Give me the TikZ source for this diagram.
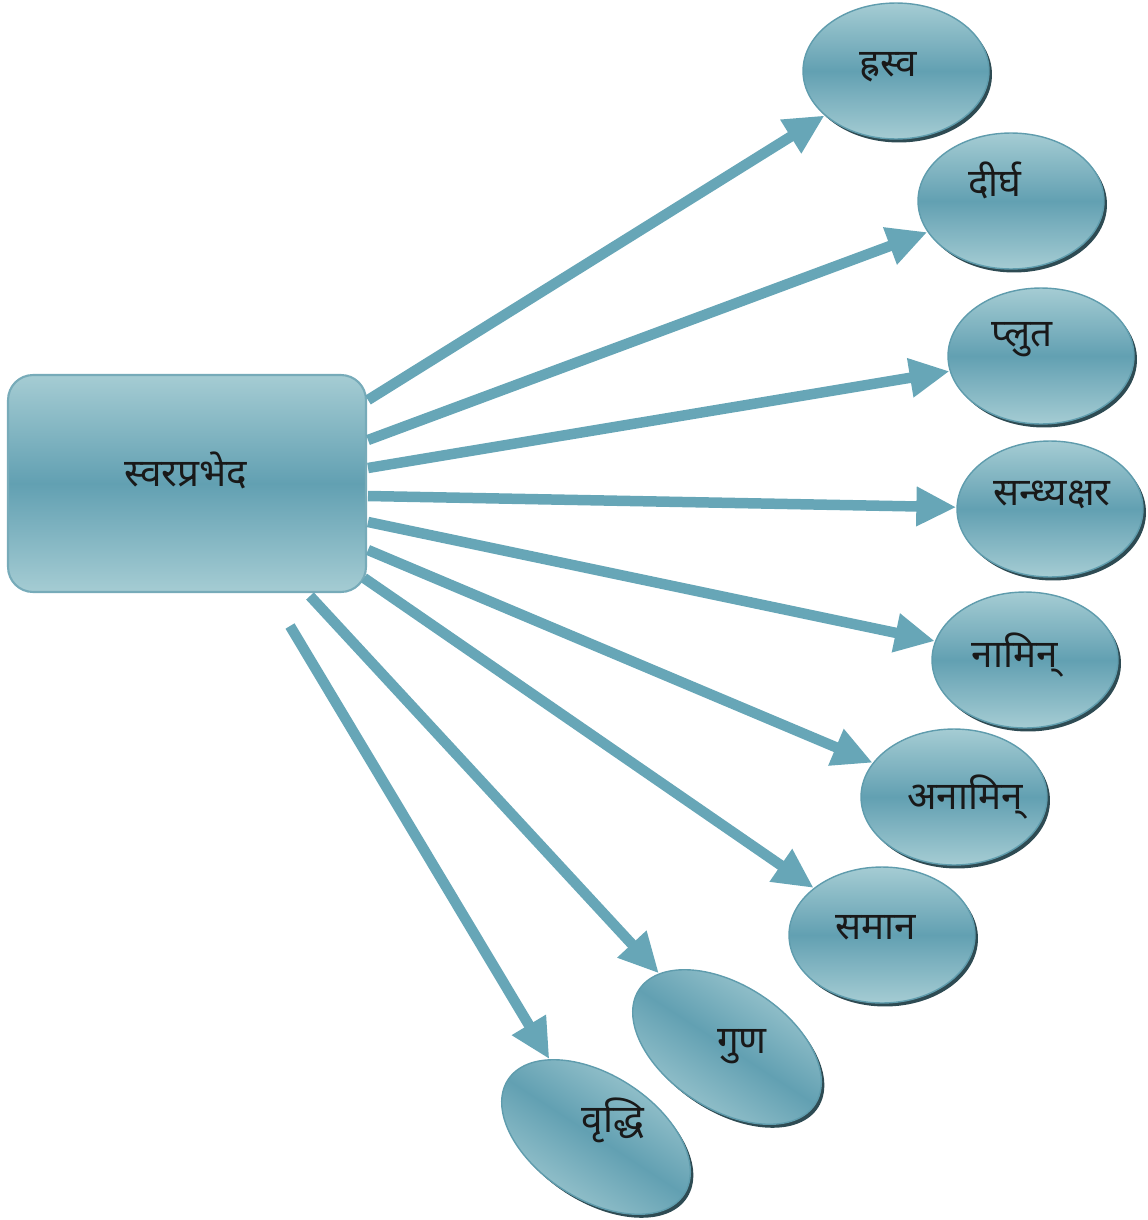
\documentclass[tikz,border=0pt]{standalone}
\usepackage{fontspec}
\newfontfamily\deva[Script=Devanagari]{Noto Sans}
\usetikzlibrary{arrows.meta,shapes.geometric,shadows}
\definecolor{lightc}{HTML}{A5CCD3}
\definecolor{darkc}{HTML}{62A0B2}
\definecolor{arrc}{HTML}{67A6B7}
\definecolor{edgec}{HTML}{5F9CAD}
\definecolor{shadc}{HTML}{2E4B53}
\begin{document}
\begin{tikzpicture}[x=0.02cm,y=-0.02cm,
  box/.style={rectangle, rounded corners=0.5cm, minimum width=7.16cm, minimum height=4.34cm,
    draw=edgec!85, line width=1.2pt, top color=lightc, bottom color=lightc, middle color=darkc},
  oval/.style={ellipse, minimum width=3.72cm, minimum height=2.72cm, inner sep=0pt,
    draw=edgec, line width=0.8pt, top color=lightc, bottom color=lightc, middle color=darkc,
    drop shadow={shadow xshift=0.06cm, shadow yshift=-0.07cm, fill=shadc, opacity=1}},
  tilted/.style={oval, minimum width=4.2cm, minimum height=2.48cm, rotate=-33, shading angle=-33},
  lbl/.style={font=\deva\bfseries\fontsize{22}{26}\selectfont, text=black!90, inner sep=0pt},
  arrow/.style={draw=arrc, line width=0.21cm, -{Triangle[length=0.8cm,width=0.74cm]}}
]
\useasboundingbox (0,0) rectangle (1148,1220);

% source box
\node[box] (R) at (187,483.5) {};
\node[lbl] (Rt) at (186,470) {स्वरप्रभेद};

% target ellipses
\node[oval] (hr) at (896,71) {};
\node[oval] (di) at (1011,201) {};
\node[oval] (pl) at (1041,356) {};
\node[oval] (sa) at (1050,509) {};
\node[oval] (na) at (1025,660) {};
\node[oval] (an) at (954,797) {};
\node[oval] (sm) at (882,935) {};
\node[tilted] (gu) at (727,1047) {};
\node[tilted] (vr) at (596,1137) {};

% labels
\node[lbl] (hrt) at (888,67) {ह्रस्व};
\node[lbl] (dit) at (995,180) {दीर्घ};
\node[lbl] (plt) at (1022,340) {प्लुत};
\node[lbl] (sat) at (1052,495) {सन्ध्यक्षर};
\node[lbl] (nat) at (1015,655) {नामिन्};
\node[lbl] (ant) at (965,797) {अनामिन्};
\node[lbl] (smt) at (876,928) {समान};
\node[lbl] (gut) at (742,1047) {गुण};
\node[lbl] (vrt) at (613,1120) {वृद्धि};

% arrow start points on the box
\coordinate (s1) at (368,400);
\coordinate (s2) at (368,440);
\coordinate (s3) at (368,468);
\coordinate (s4) at (368,496);
\coordinate (s5) at (368,522);
\coordinate (s6) at (368,550);
\coordinate (s7) at (364,578);
\coordinate (s8) at (310,596);
\coordinate (s9) at (290,626);

\draw[arrow] (s1) -- (hr);
\draw[arrow] (s2) -- (di);
\draw[arrow] (s3) -- (pl);
\draw[arrow] (s4) -- (sa);
\draw[arrow] (s5) -- (na);
\draw[arrow] (s6) -- (an);
\draw[arrow] (s7) -- (sm);
\draw[arrow] (s8) -- (gu);
\draw[arrow] (s9) -- (vr);
\end{tikzpicture}
\end{document}
